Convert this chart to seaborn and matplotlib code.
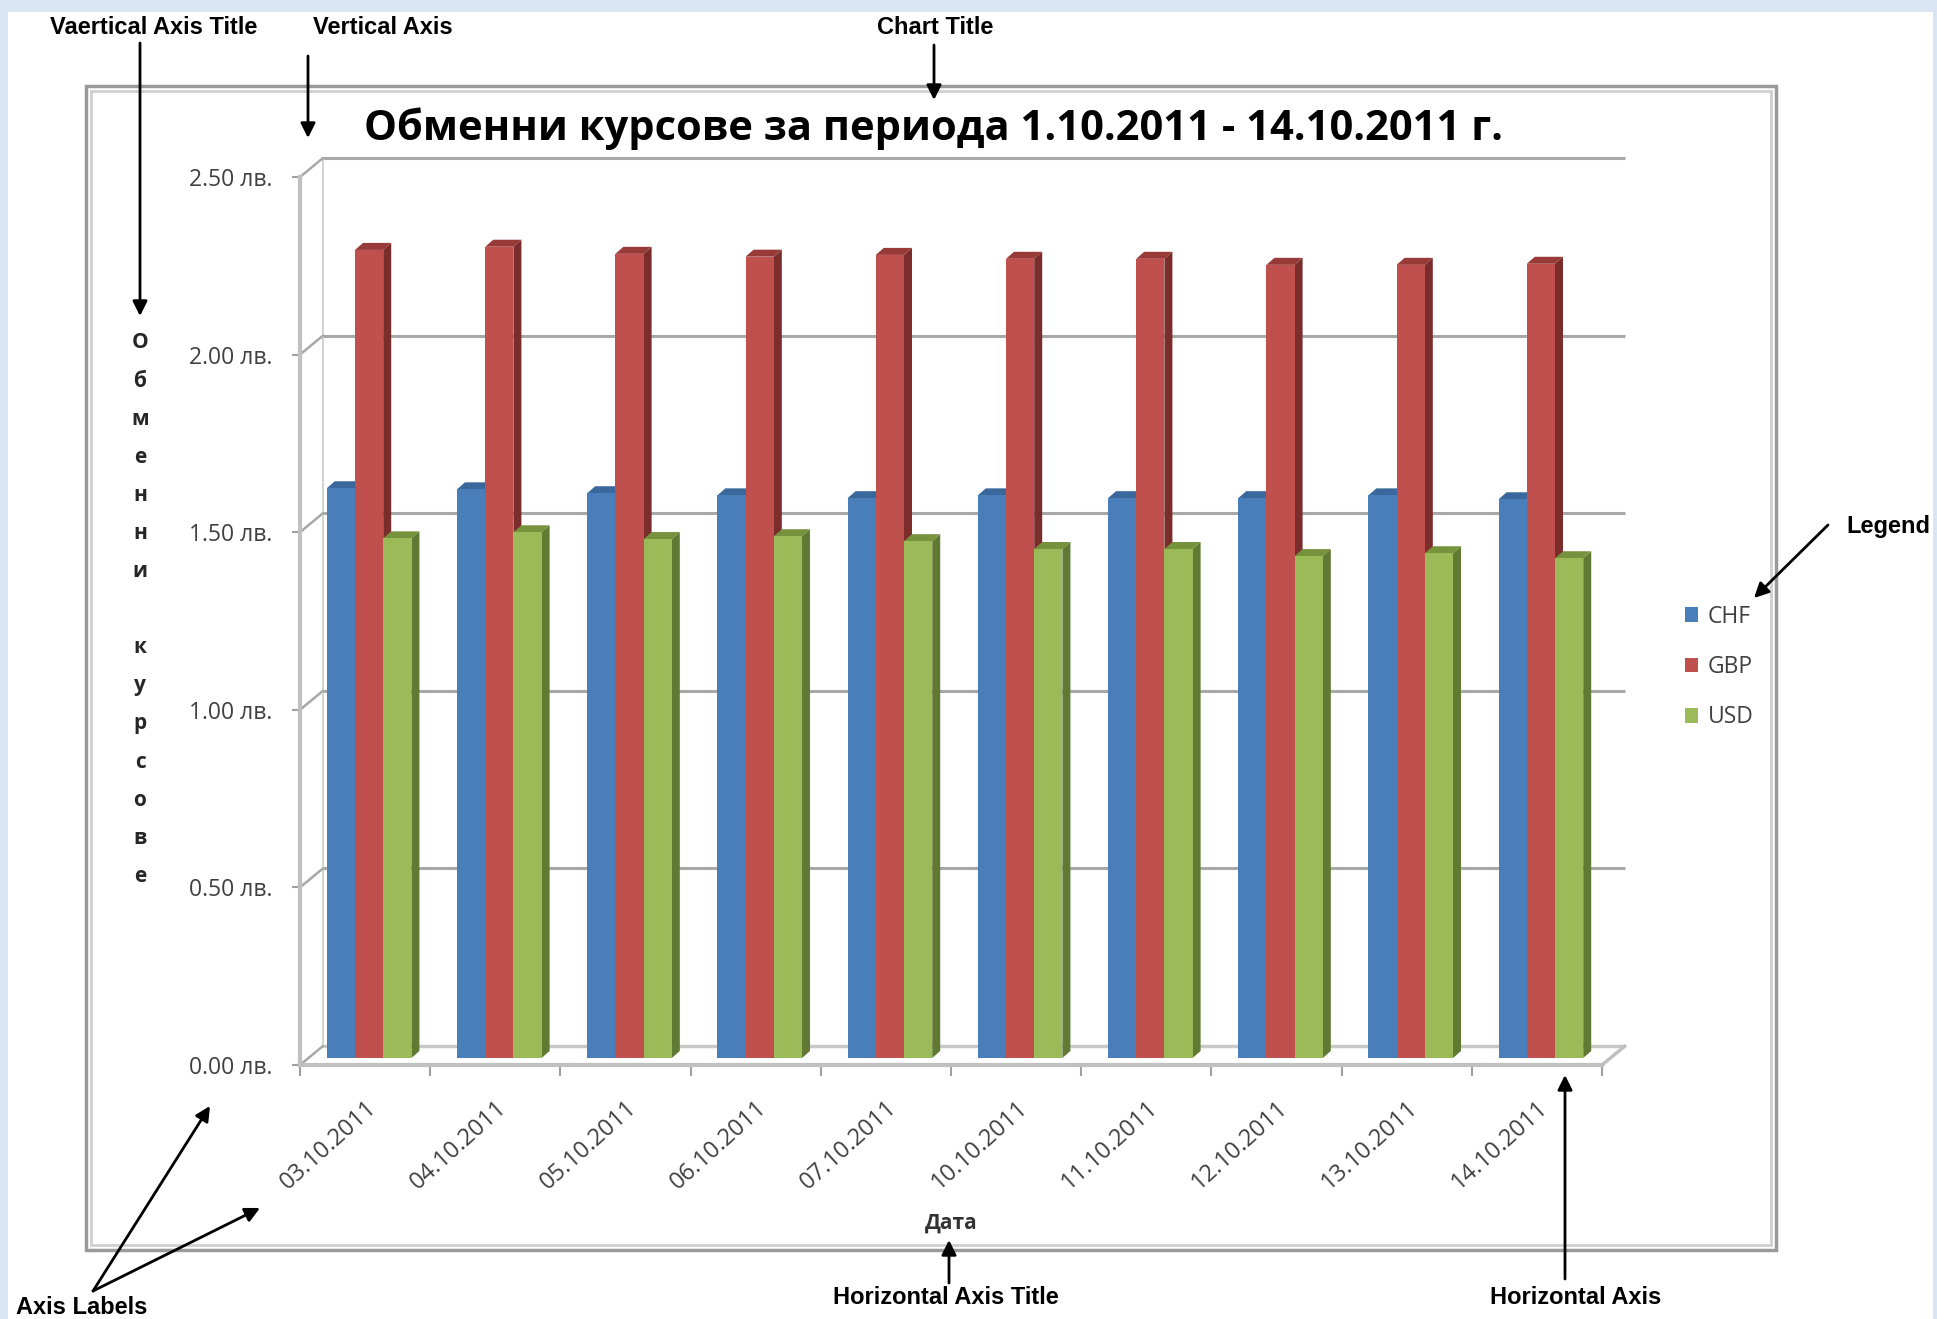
import numpy as np
import pandas as pd
import matplotlib
matplotlib.use('Agg')
import matplotlib.pyplot as plt
import seaborn as sns
from matplotlib.transforms import ScaledTranslation, IdentityTransform
from matplotlib.patches import Polygon, Rectangle
from matplotlib.lines import Line2D

# data (BGN per unit)
dates = ['03.10.2011', '04.10.2011', '05.10.2011', '06.10.2011', '07.10.2011',
         '10.10.2011', '11.10.2011', '12.10.2011', '13.10.2011', '14.10.2011']
chf = [1.604, 1.601, 1.590, 1.584, 1.576, 1.584, 1.576, 1.576, 1.584, 1.573]
gbp = [2.275, 2.284, 2.264, 2.256, 2.261, 2.250, 2.250, 2.233, 2.233, 2.236]
usd = [1.463, 1.480, 1.461, 1.469, 1.455, 1.433, 1.433, 1.413, 1.421, 1.407]
currencies = ['CHF', 'GBP', 'USD']
yticks = [0.0, 0.5, 1.0, 1.5, 2.0, 2.5]

df = pd.DataFrame({
    'date': dates * 3,
    'currency': ['CHF'] * 10 + ['GBP'] * 10 + ['USD'] * 10,
    'rate': chf + gbp + usd,
})

W, H = 1937, 1319
front_c = ['#4a7ebb', '#c0504d', '#9bbb59']
side_c = ['#2f5c8f', '#7b2d2b', '#617a33']
top_c = ['#3a679c', '#983a37', '#76923c']

sns.set_theme(style='white')
plt.rcParams['font.family'] = ['Open Sans', 'DejaVu Sans']

fig = plt.figure(figsize=(W / 100, H / 100), dpi=100, facecolor='#d9e5f2')


def fp(x, y):
    # figure pixels, measured from the top-left corner
    return (x, H - y)


# white canvas and chart frame
fig.add_artist(Rectangle((8 / W, 0), (1933 - 8) / W, (H - 12) / H,
                         transform=fig.transFigure, facecolor='white',
                         edgecolor='none', zorder=-5))
fig.add_artist(Rectangle((86 / W, (H - 1250) / H), (1776 - 86) / W, (1250 - 86) / H,
                         transform=fig.transFigure, fill=False,
                         edgecolor='#9a9a9a', lw=2.5, zorder=-4))
fig.add_artist(Rectangle((91 / W, (H - 1245) / H), (1771 - 91) / W, (1245 - 91) / H,
                         transform=fig.transFigure, fill=False,
                         edgecolor='#cfcfcf', lw=2, zorder=-4))

ax = fig.add_axes([300 / W, (H - 1065) / H, 1302 / W, 888 / H])
ax.patch.set_alpha(0)

sns.barplot(data=df, x='date', y='rate', hue='currency', hue_order=currencies,
            palette=front_c, width=0.65, saturation=1, linewidth=0, ax=ax)
handles, labels = ax.get_legend_handles_labels()
ax.get_legend().remove()
ax.set_xlim(-0.5, 9.5)
ax.set_ylim(0, 2.5)

# pseudo 3D: bars sit a little behind the front plane, grid on the back wall
shift = ScaledTranslation(4 / 100, 7 / 100, fig.dpi_scale_trans)
back = ax.transData + ScaledTranslation(23 / 100, 19 / 100, fig.dpi_scale_trans)
dx, dy = 8, 7
for k, cont in enumerate(ax.containers):
    for bar in cont:
        tr = ax.transData + shift
        bar.set_transform(tr)
        bar.set_zorder(4 + 2 * k)
        x0, y0 = bar.get_x(), bar.get_y()
        (px0, py0), (px1, py1) = tr.transform([(x0, y0), (x0 + bar.get_width(), y0 + bar.get_height())])
        side = Polygon([(px1, py0), (px1 + dx, py0 + dy), (px1 + dx, py1 + dy), (px1, py1)],
                       closed=True, transform=IdentityTransform(), facecolor=side_c[k],
                       edgecolor='none', zorder=3 + 2 * k, clip_on=False)
        top = Polygon([(px0, py1), (px0 + dx, py1 + dy), (px1 + dx, py1 + dy), (px1, py1)],
                      closed=True, transform=IdentityTransform(), facecolor=top_c[k],
                      edgecolor='none', zorder=3 + 2 * k, clip_on=False)
        ax.add_patch(side)
        ax.add_patch(top)

ax.hlines(yticks[1:], -0.5, 9.5, transform=back, colors='#a8a8a8', lw=2.2, zorder=1, clip_on=False)
ax.hlines(0, -0.5, 9.5, transform=back, colors='#c8c8c8', lw=2.5, zorder=1, clip_on=False)
ax.vlines(-0.5, 0, 2.5, transform=back, colors='#d4d4d4', lw=1.5, zorder=1, clip_on=False)
for yv in yticks:
    p = ax.transData.transform((-0.5, yv))
    ax.add_line(Line2D([p[0], p[0] + 23], [p[1], p[1] + 19], transform=IdentityTransform(),
                       color='#a8a8a8', lw=1.8, zorder=1, clip_on=False))
p = ax.transData.transform((9.5, 0))
ax.add_line(Line2D([p[0], p[0] + 23], [p[1], p[1] + 19], transform=IdentityTransform(),
                   color='#c0c0c0', lw=2.5, zorder=1, clip_on=False))

for s in ['top', 'right']:
    ax.spines[s].set_visible(False)
for s in ['left', 'bottom']:
    ax.spines[s].set_color('#c0c0c0')
    ax.spines[s].set_linewidth(3)

ax.set_yticks(yticks)
ax.set_yticklabels([f'{v:.2f} лв.' for v in yticks])
ax.tick_params(axis='y', left=True, length=6, width=1.5, color='#a0a0a0',
               pad=14, labelsize=16.5, labelcolor='#404040')

ax.set_xticks(range(len(dates)))
ax.set_xticklabels(dates, rotation=42, ha='right', va='top', rotation_mode='anchor')
ax.set_xticks(np.arange(-0.5, len(dates), 1), minor=True)
ax.tick_params(axis='x', which='major', bottom=False, length=0, pad=22,
               labelsize=17, labelcolor='#404040')
ax.tick_params(axis='x', which='minor', bottom=True, length=8, width=1.5, color='#a0a0a0')

ax.set_ylabel('')
ax.set_xlabel('Дата', fontsize=15, fontweight='bold', color='#333333')
ax.xaxis.set_label_coords(0.5, -(1223 - 1065) / 888)
ax.xaxis.label.set_va('center')

# vertical axis title, one letter per line
for i, ch in enumerate('Обменни курсове'):
    fig.text(140 / W, 1 - (343 + i * 38.1) / H, ch, ha='center', va='center',
             fontsize=15, fontweight='bold', color='#262626')

fig.text(934 / W, 1 - 129 / H, 'Обменни курсове за периода 1.10.2011 - 14.10.2011 г.',
         ha='center', va='center', fontsize=30, fontweight='bold', color='black')

fig.legend(handles, labels, loc='center left', bbox_to_anchor=(1664 / W, 1 - 667 / H),
           frameon=False, fontsize=16.5, handlelength=0.6, handleheight=0.6,
           handletextpad=0.4, labelspacing=1.15, labelcolor='#404040')

# explanatory callouts
notes = [('Vaertical Axis Title', 154, 27), ('Vertical Axis', 383, 27),
         ('Chart Title', 935, 27), ('Legend', 1888, 527), ('Axis Labels', 82, 1307),
         ('Horizontal Axis Title', 946, 1297), ('Horizontal Axis', 1576, 1297)]
for txt, x, y in notes:
    fig.text(x / W, 1 - y / H, txt, ha='center', va='center', fontsize=17,
             fontweight='bold', color='black', family=['Liberation Sans', 'DejaVu Sans'])

arrows = [((140, 43), (140, 316)), ((308, 56), (308, 138)), ((934, 45), (934, 100)),
          ((1828, 525), (1754, 598)), ((93, 1291), (210, 1106)), ((93, 1291), (260, 1208)),
          ((949, 1283), (949, 1240)), ((1565, 1279), (1565, 1075))]
for tail, head in arrows:
    ax.annotate('', xy=fp(*head), xycoords='figure pixels', xytext=fp(*tail),
                textcoords='figure pixels', annotation_clip=False,
                arrowprops=dict(arrowstyle='-|>', color='black', lw=2,
                                mutation_scale=22, shrinkA=0, shrinkB=0))

fig.savefig('out.png', dpi=100, facecolor=fig.get_facecolor())
